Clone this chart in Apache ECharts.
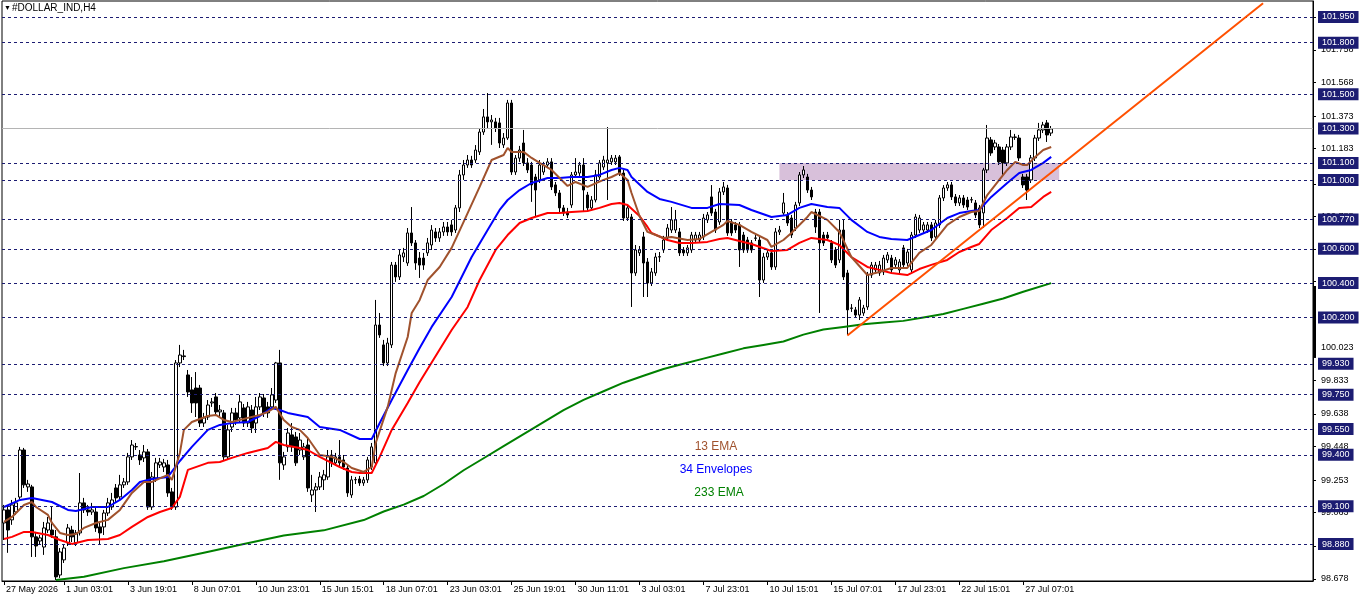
<!DOCTYPE html>
<html><head><meta charset="utf-8">
<script src="https://cdn.jsdelivr.net/npm/echarts@6/dist/echarts.min.js"></script>
<style>html,body{margin:0;padding:0;background:#fff}#c{width:1362px;height:603px}</style>
</head><body><div id="c"></div>
<script>
// ---- candles (H4 bars, index 0..262) ----
const opens = [99.003,99.079,99.021,99.067,99.154,99.428,99.213,99.213,98.922,98.898,98.863,98.962,98.962,98.922,98.700,98.788,98.887,98.962,98.887,98.945,
99.120,99.079,99.067,99.067,98.980,98.980,99.061,99.096,99.207,99.155,99.225,99.242,99.388,99.446,99.399,99.382,99.417,99.096,99.265,99.341,
99.329,99.341,99.184,99.096,99.935,99.976,99.865,99.778,99.789,99.789,99.585,99.620,99.702,99.737,99.650,99.644,99.388,99.562,99.644,99.615,
99.673,99.585,99.661,99.585,99.679,99.731,99.679,99.679,99.719,99.935,99.341,99.446,99.516,99.504,99.428,99.388,99.457,99.166,99.195,99.213,
99.254,99.271,99.399,99.353,99.388,99.370,99.323,99.166,99.254,99.259,99.236,99.254,99.329,99.353,100.156,100.040,99.935,100.040,100.505,100.436,
100.552,100.517,100.692,100.634,100.546,100.546,100.576,100.622,100.698,100.663,100.698,100.727,100.739,100.709,100.838,101.030,101.088,101.117,101.117,101.164,
101.280,101.368,101.339,101.339,101.333,101.205,101.245,101.449,101.047,101.128,101.216,101.100,101.088,101.018,101.001,101.047,101.088,101.106,100.972,100.925,
100.838,100.814,100.855,101.030,101.041,101.088,100.913,100.838,100.884,101.018,101.076,101.100,101.106,101.106,101.135,101.041,100.779,100.785,100.459,100.576,
100.669,100.523,100.401,100.459,100.552,100.593,100.663,100.709,100.709,100.698,100.593,100.576,100.593,100.651,100.651,100.669,100.768,100.902,100.814,100.756,
100.931,100.954,100.756,100.739,100.739,100.680,100.651,100.634,100.663,100.651,100.418,100.552,100.576,100.494,100.698,100.808,100.797,100.779,100.721,100.867,
101.030,101.018,100.942,100.814,100.814,100.680,100.680,100.634,100.593,100.535,100.709,100.459,100.255,100.244,100.214,100.226,100.261,100.447,100.477,100.459,
100.465,100.535,100.546,100.506,100.477,100.605,100.517,100.477,100.680,100.709,100.709,100.709,100.739,100.669,100.739,100.896,100.954,100.972,100.902,100.867,
100.896,100.884,100.884,100.867,100.838,100.809,101.059,101.234,101.193,101.193,101.175,101.100,101.193,101.251,101.245,101.018,101.018,101.001,101.129,101.245,
101.292,101.333,101.274];
const closes = [99.079,98.962,99.108,99.120,99.428,99.225,99.230,98.922,98.869,98.916,98.974,99.003,98.933,98.689,98.834,98.857,98.974,98.922,98.945,99.120,
99.079,99.067,99.079,98.974,98.945,99.061,99.120,99.137,99.149,99.225,99.242,99.388,99.457,99.448,99.370,99.417,99.096,99.271,99.353,99.358,
99.353,99.178,99.096,99.935,99.981,99.972,99.766,99.702,99.702,99.585,99.615,99.690,99.708,99.650,99.661,99.388,99.545,99.644,99.603,99.708,
99.585,99.679,99.556,99.679,99.737,99.644,99.644,99.749,99.935,99.353,99.388,99.527,99.446,99.353,99.486,99.446,99.207,99.195,99.213,99.271,
99.283,99.388,99.353,99.388,99.353,99.329,99.178,99.254,99.256,99.236,99.254,99.370,99.446,100.156,100.098,99.935,100.051,100.505,100.436,100.564,
100.576,100.692,100.634,100.517,100.505,100.505,100.634,100.709,100.663,100.698,100.727,100.698,100.698,100.838,101.030,101.088,101.117,101.088,101.175,101.280,
101.368,101.339,101.350,101.304,101.216,101.245,101.449,101.047,101.128,101.175,101.100,101.059,100.972,100.942,101.088,101.088,101.106,100.960,100.925,100.838,
100.808,100.797,101.030,101.047,101.088,100.942,100.838,100.884,101.030,101.100,101.117,101.117,101.128,101.128,101.041,100.779,100.838,100.459,100.593,100.593,
100.517,100.401,100.465,100.552,100.554,100.651,100.721,100.768,100.768,100.576,100.576,100.605,100.680,100.680,100.680,100.779,100.797,100.808,100.709,100.931,
100.960,100.692,100.692,100.709,100.593,100.593,100.593,100.593,100.661,100.418,100.552,100.576,100.494,100.698,100.709,100.867,100.750,100.680,100.855,101.030,
101.059,100.942,100.902,100.727,100.634,100.634,100.663,100.535,100.505,100.709,100.436,100.244,100.253,100.214,100.302,100.255,100.447,100.505,100.505,100.505,
100.546,100.564,100.477,100.535,100.523,100.506,100.581,100.680,100.785,100.779,100.739,100.739,100.663,100.750,100.896,100.954,100.972,100.902,100.867,100.896,
100.855,100.843,100.886,100.797,100.739,101.059,101.245,101.158,101.216,101.106,101.100,101.193,101.251,101.249,101.129,100.972,100.942,101.129,101.245,101.292,
101.321,101.263,101.298];
const highs = [99.108,99.102,99.137,99.149,99.446,99.440,99.254,99.225,98.951,98.933,99.009,99.038,99.096,98.962,98.857,98.875,98.997,98.986,98.962,99.294,
99.149,99.108,99.120,99.090,99.009,99.079,99.149,99.178,99.230,99.283,99.265,99.411,99.486,99.469,99.428,99.457,99.434,99.300,99.382,99.382,
99.376,99.370,99.207,99.952,100.040,100.011,99.894,99.853,99.882,99.807,99.644,99.719,99.731,99.760,99.690,99.661,99.574,99.673,99.673,99.749,
99.696,99.708,99.690,99.737,99.760,99.754,99.708,99.789,99.941,100.011,99.417,99.556,99.585,99.533,99.527,99.469,99.498,99.283,99.236,99.300,
99.312,99.428,99.428,99.411,99.486,99.399,99.341,99.277,99.271,99.277,99.271,99.388,99.469,100.302,100.226,100.069,100.081,100.523,100.523,100.593,
100.605,100.721,100.843,100.651,100.581,100.576,100.663,100.738,100.721,100.721,100.756,100.756,100.768,100.855,101.059,101.117,101.146,101.141,101.204,101.303,
101.414,101.507,101.379,101.362,101.362,101.274,101.467,101.467,101.146,101.199,101.292,101.128,101.106,101.036,101.117,101.106,101.128,101.128,100.989,100.942,
100.855,100.838,101.047,101.128,101.106,101.128,100.931,100.907,101.059,101.117,101.141,101.309,101.146,101.146,101.146,101.059,100.855,100.803,100.622,100.616,
100.698,100.546,100.488,100.576,100.581,100.675,100.744,100.843,100.826,100.721,100.610,100.622,100.698,100.698,100.698,100.803,100.814,100.971,100.832,100.954,
100.989,100.972,100.773,100.756,100.756,100.698,100.669,100.651,100.680,100.669,100.576,100.593,100.593,100.721,100.733,100.925,100.814,100.797,100.873,101.047,
101.082,101.036,100.960,100.832,100.832,100.698,100.698,100.651,100.610,100.768,100.768,100.477,100.278,100.261,100.319,100.273,100.465,100.523,100.523,100.529,
100.564,100.581,100.564,100.552,100.540,100.622,100.599,100.698,100.803,100.797,100.756,100.756,100.756,100.768,100.913,100.971,100.989,100.989,100.919,100.913,
100.913,100.902,100.902,100.884,100.855,101.071,101.321,101.251,101.234,101.210,101.193,101.210,101.292,101.269,101.263,101.036,101.036,101.146,101.263,101.333,
101.339,101.350,101.315];
const lows = [98.904,98.829,98.992,99.050,99.137,99.207,99.184,98.805,98.805,98.875,98.817,98.945,98.916,98.671,98.683,98.770,98.869,98.892,98.869,98.930,
99.061,99.044,99.050,98.951,98.875,98.933,99.044,99.079,99.125,99.137,99.207,99.225,99.370,99.428,99.341,99.358,99.079,99.079,99.242,99.323,
99.300,99.155,99.079,99.079,99.911,99.952,99.737,99.644,99.620,99.562,99.562,99.603,99.679,99.632,99.620,99.370,99.370,99.533,99.574,99.591,
99.562,99.562,99.527,99.527,99.661,99.620,99.615,99.661,99.702,99.254,99.312,99.417,99.417,99.335,99.399,99.370,99.184,99.125,99.067,99.195,
99.195,99.254,99.329,99.335,99.335,99.312,99.155,99.149,99.230,99.219,99.219,99.236,99.312,99.335,100.081,99.917,99.917,100.022,100.407,100.418,
100.523,100.500,100.616,100.477,100.430,100.477,100.558,100.593,100.640,100.640,100.675,100.675,100.675,100.692,100.814,101.001,101.071,101.071,101.100,101.146,
101.263,101.303,101.205,101.280,101.187,101.187,101.234,101.030,101.030,101.106,101.082,101.041,100.873,100.785,100.983,101.030,101.071,100.942,100.907,100.814,
100.791,100.779,100.838,101.012,101.024,100.814,100.820,100.820,100.870,101.001,101.059,100.884,101.088,101.088,101.024,100.762,100.762,100.261,100.442,100.558,
100.319,100.319,100.383,100.442,100.523,100.576,100.645,100.692,100.692,100.558,100.558,100.558,100.576,100.634,100.634,100.651,100.750,100.791,100.692,100.739,
100.913,100.675,100.675,100.692,100.494,100.576,100.576,100.576,100.645,100.319,100.401,100.535,100.477,100.477,100.680,100.791,100.733,100.663,100.704,100.849,
101.012,100.925,100.884,100.692,100.226,100.616,100.645,100.517,100.488,100.517,100.418,100.098,100.232,100.197,100.185,100.209,100.244,100.430,100.459,100.442,
100.447,100.517,100.459,100.488,100.459,100.488,100.500,100.459,100.663,100.692,100.692,100.692,100.645,100.651,100.721,100.878,100.937,100.884,100.849,100.849,
100.838,100.826,100.867,100.779,100.721,100.721,101.041,101.141,101.175,101.088,101.030,101.082,101.175,101.234,101.111,100.954,100.884,100.983,101.111,101.228,
101.274,101.222,101.257];

// ---- indicator lines, read at sampled bars ----
const ema13Bars = [0,2,5,7,8,11,12,14,16,18,20,23,26,29,32,35,37,41,42,44,45,47,51,53,55,57,61,64,66,68,70,72,74,76,79,82,85,87,90,92,93,96,98,101,102,104,106,109,112,116,119,122,125,126,127,130,132,134,137,141,143,146,150,152,154,156,157,159,161,165,167,171,174,177,180,181,184,187,191,192,195,197,201,202,206,209,212,216,219,222,226,229,232,236,239,242,244,246,249,251,253,255,256,258,260,262];
const ema13Vals = [99.009,99.038,99.108,99.125,99.096,99.050,99.003,98.945,98.933,98.939,98.974,99.003,99.021,99.079,99.178,99.242,99.242,99.283,99.254,99.411,99.545,99.591,99.626,99.632,99.603,99.591,99.615,99.632,99.650,99.679,99.603,99.562,99.545,99.498,99.399,99.388,99.358,99.323,99.300,99.329,99.469,99.679,99.876,100.086,100.226,100.302,100.418,100.494,100.605,100.808,100.960,101.117,101.146,101.187,101.164,101.164,101.129,101.100,101.059,100.966,100.989,100.960,101.001,101.018,101.041,101.001,100.925,100.791,100.698,100.663,100.669,100.651,100.657,100.698,100.739,100.762,100.739,100.698,100.651,100.611,100.651,100.692,100.785,100.814,100.768,100.698,100.552,100.447,100.465,100.488,100.488,100.576,100.622,100.739,100.785,100.814,100.820,100.913,101.001,101.059,101.106,101.088,101.088,101.135,101.175,101.193];
const envUpperBars = [0,4,7,12,16,18,22,26,29,32,34,37,41,44,47,51,54,57,61,64,67,69,71,76,79,84,89,92,94,97,101,104,107,112,117,121,124,126,129,132,136,139,142,146,149,152,154,156,157,161,164,167,172,176,179,184,187,192,196,199,202,206,209,212,216,219,222,226,229,232,236,239,242,244,247,251,254,257,260,262];
const envUpperVals = [99.096,99.137,99.149,99.125,99.079,99.073,99.096,99.096,99.137,99.195,99.242,99.259,99.271,99.364,99.446,99.545,99.574,99.585,99.591,99.626,99.673,99.661,99.644,99.620,99.562,99.545,99.492,99.492,99.585,99.719,99.894,100.022,100.145,100.319,100.552,100.709,100.826,100.884,100.942,100.983,101.012,101.012,101.018,101.018,101.030,101.059,101.071,101.059,101.018,100.931,100.890,100.873,100.838,100.838,100.861,100.855,100.826,100.785,100.797,100.838,100.861,100.843,100.838,100.768,100.698,100.669,100.657,100.651,100.680,100.709,100.779,100.808,100.820,100.826,100.902,100.983,101.041,101.059,101.100,101.135];
const envLowerBars = [0,2,5,7,11,14,17,21,26,29,32,36,39,42,44,46,51,54,57,61,66,68,70,74,76,79,84,87,89,92,94,97,101,104,112,116,119,123,126,129,132,136,139,142,146,149,152,154,156,159,161,162,166,169,172,176,179,181,184,187,192,196,199,202,206,209,212,216,219,222,226,229,232,236,239,242,244,247,251,254,257,260,262];
const envLowerVals = [98.910,98.922,98.951,98.951,98.933,98.904,98.881,98.904,98.910,98.933,98.980,99.038,99.067,99.090,99.155,99.312,99.353,99.358,99.382,99.411,99.440,99.475,99.457,99.440,99.428,99.388,99.329,99.300,99.294,99.294,99.388,99.545,99.702,99.824,100.127,100.261,100.418,100.593,100.680,100.750,100.779,100.808,100.808,100.814,100.820,100.838,100.861,100.867,100.855,100.791,100.727,100.692,100.651,100.634,100.634,100.640,100.657,100.663,100.645,100.628,100.587,100.593,100.634,100.663,100.651,100.622,100.552,100.494,100.477,100.459,100.447,100.482,100.506,100.535,100.581,100.610,100.628,100.709,100.779,100.838,100.843,100.902,100.931];
const ema233Bars = [13,20,30,40,50,60,70,80,90,95,100,105,110,115,120,125,130,135,140,145,150,155,160,165,170,175,180,185,190,195,200,205,210,215,220,225,230,235,240,245,250,255,262];
const ema233Vals = [98.671,98.69,98.74,98.78,98.83,98.88,98.93,98.96,99.02,99.07,99.11,99.16,99.23,99.31,99.38,99.45,99.52,99.59,99.66,99.72,99.77,99.82,99.86,99.90,99.93,99.96,99.99,100.02,100.04,100.06,100.10,100.13,100.145,100.16,100.17,100.18,100.20,100.22,100.25,100.28,100.31,100.35,100.40];

// ---- levels, ticks, labels, objects ----
const levels = [101.950,101.800,101.500,101.300,101.100,101.000,100.770,100.600,100.400,100.200,99.930,99.750,99.550,99.400,99.100,98.880];
const priceLineLevel = 101.300;
const priceTicks = [98.678,98.868,99.063,99.253,99.448,99.638,99.833,100.023,100.213,100.408,100.598,100.788,100.978,101.183,101.373,101.568,101.758,101.948];
const timeLabels = ['27 May 2026','1 Jun 03:01','3 Jun 19:01','8 Jun 07:01','10 Jun 23:01','15 Jun 15:01','18 Jun 07:01','23 Jun 03:01','25 Jun 19:01','30 Jun 11:01','3 Jul 03:01','7 Jul 23:01','10 Jul 15:01','15 Jul 07:01','17 Jul 23:01','22 Jul 15:01','27 Jul 07:01'];
const timeLabelBars = [0,15,31,47,63,79,95,111,127,143,159,175,191,207,223,239,255];
const zoneBars = [194, 264];
const zonePrices = [101.10, 101.00];
const trendBars = [211, 315];
const trendPrices = [100.095, 102.03];
const scaleMarker = [100.383, 99.964];
const totalSlots = 328;
const yMin = 98.665, yMax = 102.043;

const FONT = 'Liberation Sans';
const cats = Array.from({length: totalSlots}, (_, i) => String(i));
const candleData = opens.map((o, i) => [o, closes[i], lows[i], highs[i]]);
const pairs = (b, v) => b.map((x, k) => [x, v[k]]);
const labelMap = {};
timeLabelBars.forEach((b, k) => labelMap[b] = timeLabels[k]);
const isLabelBar = (idx) => labelMap[idx] !== undefined;

const chart = echarts.init(document.getElementById('c'), null, {renderer: 'canvas'});

const levelLines = levels.map(v => ({
  yAxis: v,
  label: {formatter: v.toFixed(3)},
  lineStyle: v === priceLineLevel ? {type: 'solid', color: '#b4b4b4', width: 1} : {type: [3, 3], color: '#1c1c72', width: 1}
}));

const lineSeries = (name, bars, vals, color, z) => ({
  name, type: 'line', data: pairs(bars, vals), showSymbol: false, symbol: 'none',
  lineStyle: {color, width: 2}, itemStyle: {color}, z, silent: true, animation: false
});

chart.setOption({
  animation: false,
  backgroundColor: '#ffffff',
  grid: {left: 2, right: 49, top: 1, bottom: 22, show: true, borderColor: '#000', borderWidth: 1},
  xAxis: {
    type: 'category', data: cats, boundaryGap: true,
    axisLine: {lineStyle: {color: '#000', width: 1}},
    axisTick: {show: true, interval: (i) => isLabelBar(i), alignWithLabel: true, length: 4, lineStyle: {color: '#000'}},
    axisLabel: {
      interval: (i) => isLabelBar(i), formatter: (v) => labelMap[parseInt(v, 10)] || '',
      align: 'left', margin: 4, padding: [0, 0, 0, 2], color: '#000', fontSize: 9, fontFamily: FONT
    },
    splitLine: {show: false}
  },
  yAxis: {
    type: 'value', position: 'right', min: yMin, max: yMax, scale: true,
    axisLine: {show: true, lineStyle: {color: '#000', width: 1}},
    axisTick: {show: true, customValues: priceTicks, length: 3, lineStyle: {color: '#000'}},
    axisLabel: {customValues: priceTicks, formatter: (v) => v.toFixed(3), margin: 8, color: '#000', fontSize: 9, fontFamily: FONT},
    splitLine: {show: false}
  },
  series: [
    {
      name: 'levels', type: 'line', data: [], z: 1, silent: true,
      markArea: {
        silent: true, itemStyle: {color: '#d8c0da'},
        data: [[{coord: [zoneBars[0], zonePrices[0]]}, {coord: [zoneBars[1], zonePrices[1]]}]]
      },
      markLine: {
        silent: true, symbol: ['none', 'none'], animation: false,
        label: {position: 'end', distance: 5, color: '#ffffff', backgroundColor: '#1c1c72', padding: [2, 4, 1, 4], fontSize: 9, fontFamily: FONT, lineHeight: 9},
        data: levelLines
      }
    },
    {
      name: 'price', type: 'candlestick', data: candleData, barWidth: 3, z: 2, silent: true,
      itemStyle: {color: '#ffffff', color0: '#000000', borderColor: '#000000', borderColor0: '#000000', borderWidth: 1}
    },
    lineSeries('233 EMA', ema233Bars, ema233Vals, '#008000', 3),
    lineSeries('34 Envelopes lower', envLowerBars, envLowerVals, '#ff0000', 3),
    lineSeries('34 Envelopes upper', envUpperBars, envUpperVals, '#0000ff', 3),
    lineSeries('13 EMA', ema13Bars, ema13Vals, '#a0522d', 3),
    {
      name: 'trend', type: 'line', data: [], z: 4, silent: true,
      markLine: {
        silent: true, symbol: ['none', 'none'], label: {show: false}, animation: false,
        lineStyle: {color: '#ff5000', width: 2, type: 'solid'},
        data: [[{coord: [trendBars[0], trendPrices[0]]}, {coord: [trendBars[1], trendPrices[1]]}]]
      }
    }
  ]
});

// decorations
const yTop = chart.convertToPixel({yAxisIndex: 0}, scaleMarker[0]);
const yBot = chart.convertToPixel({yAxisIndex: 0}, scaleMarker[1]);
const axisX = chart.getWidth() - 49;
chart.setOption({
  graphic: [
    {type: 'rect', shape: {x: axisX, y: yTop, width: 3, height: yBot - yTop}, style: {fill: '#000'}, z: 10},
    {type: 'text', style: {x: 4, y: 8, text: '▼', fill: '#000', font: '7px "' + FONT + '"', verticalAlign: 'middle'}, z: 10},
    {type: 'text', style: {x: 12, y: 8, text: '#DOLLAR_IND,H4', fill: '#000', font: '10px "' + FONT + '"', verticalAlign: 'middle'}, z: 10},
    {type: 'text', style: {x: 716, y: 447, text: '13 EMA', fill: '#a0522d', font: '12px "' + FONT + '"', align: 'center', verticalAlign: 'middle'}, z: 10},
    {type: 'text', style: {x: 716, y: 470, text: '34 Envelopes', fill: '#0000ff', font: '12px "' + FONT + '"', align: 'center', verticalAlign: 'middle'}, z: 10},
    {type: 'text', style: {x: 719, y: 493, text: '233 EMA', fill: '#008000', font: '12px "' + FONT + '"', align: 'center', verticalAlign: 'middle'}, z: 10}
  ]
});
</script>
</body></html>
